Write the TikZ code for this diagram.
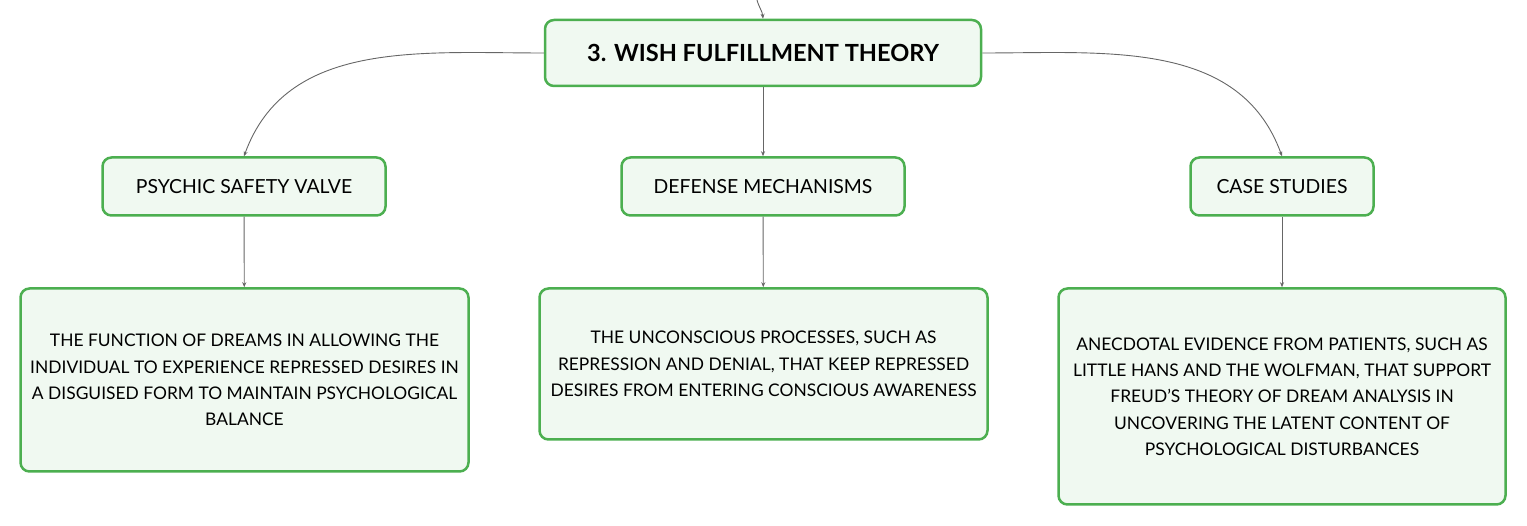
\documentclass[tikz,border=0pt]{standalone}
\usepackage{fontspec}
\setmainfont{Lato}
\usetikzlibrary{positioning,arrows.meta}
\definecolor{boxgreen}{HTML}{4CAF50}
\definecolor{boxfill}{HTML}{F0F9F1}
\definecolor{linkgray}{HTML}{666666}

\begin{document}
\begin{tikzpicture}[x=1pt,y=-1pt,
          every node/.style={font=\fontsize{17.4}{26.3}\selectfont},
          topic/.style={draw=boxgreen,fill=boxfill,line width=2.5pt,rounded corners=9pt,align=center,inner sep=0pt},
          head/.style={topic,minimum height=58,font=\fontsize{19.4}{24}\selectfont},
          link/.style={linkgray,line width=0.9pt,-{Stealth[length=5pt,width=4pt]}},
        ]
        \useasboundingbox (0,0) rectangle (1527,526);
        \node[topic,minimum width=436,minimum height=66,font=\fontsize{23.6}{28}\selectfont\bfseries] (title) at (763,53) {3. WISH FULFILLMENT THEORY};
        \node[head,minimum width=283] (valve) at (244,186.5) {PSYCHIC SAFETY VALVE};
        \node[head,minimum width=283] (defense) at (763,186.5) {DEFENSE MECHANISMS};
        \node[head,minimum width=183] (cases) at (1282,186.5) {CASE STUDIES};
        \node[topic,minimum width=448,minimum height=183] (valvenote) at (244.5,380)
          {THE FUNCTION OF DREAMS IN ALLOWING THE\\INDIVIDUAL TO EXPERIENCE REPRESSED DESIRES IN\\A DISGUISED FORM TO MAINTAIN PSYCHOLOGICAL\\BALANCE};
        \node[topic,minimum width=448,minimum height=151] (defensenote) at (763.5,364)
          {THE UNCONSCIOUS PROCESSES, SUCH AS\\REPRESSION AND DENIAL, THAT KEEP REPRESSED\\DESIRES FROM ENTERING CONSCIOUS AWARENESS};
        \node[topic,minimum width=447,minimum height=216] (casesnote) at (1282,396.5)
          {ANECDOTAL EVIDENCE FROM PATIENTS, SUCH AS\\LITTLE HANS AND THE WOLFMAN, THAT SUPPORT\\FREUD'S THEORY OF DREAM ANALYSIS IN\\UNCOVERING THE LATENT CONTENT OF\\PSYCHOLOGICAL DISTURBANCES};
        \coordinate (inlet) at (757,0);
        \draw[link] (inlet) to[out=-75,in=95] (title.north);
        \draw[link] (title.west) to[out=180,in=70] (valve.north);
        \draw[link] (title.east) to[out=0,in=110] (cases.north);
        \draw[link] (title) -- (defense);
        \draw[link] (valve) -- (valvenote);
        \draw[link] (defense) -- (defensenote);
        \draw[link] (cases) -- (casesnote);
      \end{tikzpicture}
\end{document}
